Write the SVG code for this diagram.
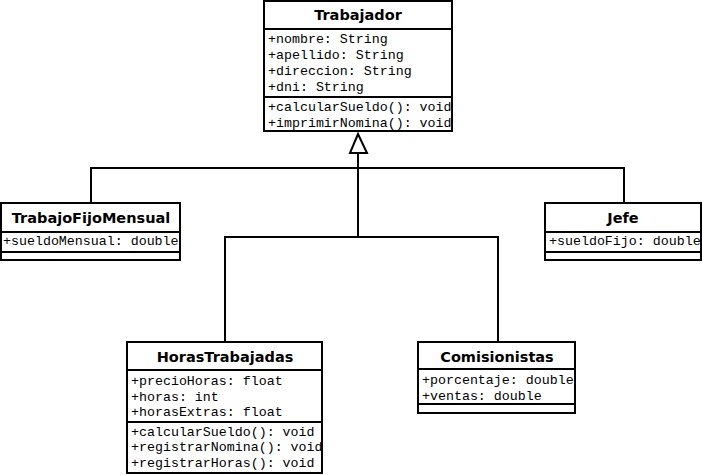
<svg xmlns="http://www.w3.org/2000/svg" width="702" height="475" viewBox="0 0 702 475">
<style>
.box{fill:#fff;stroke:#000;stroke-width:2}
.sep{stroke:#000;stroke-width:2}
.h{font-family:"DejaVu Sans",Verdana,sans-serif;font-weight:bold;font-size:14.5px;text-anchor:middle;fill:#000}
.m{font-family:"Liberation Mono","Courier New",monospace;font-size:13.3px;fill:#000}
.c{fill:none;stroke:#000;stroke-width:2}
</style>
<defs>
<clipPath id="cT"><rect x="264" y="1" width="188" height="130"/></clipPath>
<clipPath id="cF"><rect x="1" y="203" width="179" height="57"/></clipPath>
<clipPath id="cJ"><rect x="545" y="203" width="156" height="57"/></clipPath>
<clipPath id="cH"><rect x="127" y="342" width="195" height="131"/></clipPath>
<clipPath id="cC"><rect x="418" y="342" width="157" height="71"/></clipPath>
</defs>
<g id="connectors">
<polyline class="c" points="91,204 91,168 624,168 624,204"/>
<polyline class="c" points="225,342 225,237 498,237 498,342"/>
<line class="c" x1="358" y1="153" x2="358" y2="237" stroke-width="2.5"/>
<polygon points="358,134 350,153 367,153" fill="#fff" stroke="#000" stroke-width="2"/>
</g>
<g id="Trabajador">
<rect class="box" x="264" y="1" width="188" height="130"/>
<g clip-path="url(#cT)">
<text class="h" x="358" y="20">Trabajador</text>
<text class="m" x="268" y="43">+nombre: String</text>
<text class="m" x="268" y="59">+apellido: String</text>
<text class="m" x="268" y="75">+direccion: String</text>
<text class="m" x="268" y="91">+dni: String</text>
<text class="m" x="268" y="111">+calcularSueldo(): void</text>
<text class="m" x="268" y="127">+imprimirNomina(): void</text>
</g>
<line class="sep" x1="264" y1="29" x2="452" y2="29"/>
<line class="sep" x1="264" y1="97" x2="452" y2="97"/>
<rect class="box" x="264" y="1" width="188" height="130" fill="none" style="fill:none"/>
</g>
<g id="TrabajoFijoMensual">
<rect class="box" x="1" y="203" width="179" height="57"/>
<g clip-path="url(#cF)">
<text class="h" x="91" y="223">TrabajoFijoMensual</text>
<text class="m" x="3" y="245">+sueldoMensual: double</text>
</g>
<line class="sep" x1="1" y1="232" x2="180" y2="232"/>
<line class="sep" x1="1" y1="252" x2="180" y2="252"/>
<rect class="box" x="1" y="203" width="179" height="57" style="fill:none"/>
</g>
<g id="Jefe">
<rect class="box" x="545" y="203" width="156" height="57"/>
<g clip-path="url(#cJ)">
<text class="h" x="623" y="223">Jefe</text>
<text class="m" x="549" y="245">+sueldoFijo: double</text>
</g>
<line class="sep" x1="545" y1="232" x2="701" y2="232"/>
<line class="sep" x1="545" y1="252" x2="701" y2="252"/>
<rect class="box" x="545" y="203" width="156" height="57" style="fill:none"/>
</g>
<g id="HorasTrabajadas">
<rect class="box" x="127" y="342" width="195" height="131"/>
<g clip-path="url(#cH)">
<text class="h" x="225" y="362">HorasTrabajadas</text>
<text class="m" x="131" y="385">+precioHoras: float</text>
<text class="m" x="131" y="401">+horas: int</text>
<text class="m" x="131" y="416">+horasExtras: float</text>
<text class="m" x="131" y="436">+calcularSueldo(): void</text>
<text class="m" x="131" y="451">+registrarNomina(): void</text>
<text class="m" x="131" y="467">+registrarHoras(): void</text>
</g>
<line class="sep" x1="127" y1="370" x2="322" y2="370"/>
<line class="sep" x1="127" y1="422" x2="322" y2="422"/>
<rect class="box" x="127" y="342" width="195" height="131" style="fill:none"/>
</g>
<g id="Comisionistas">
<rect class="box" x="418" y="342" width="157" height="71"/>
<g clip-path="url(#cC)">
<text class="h" x="497" y="362">Comisionistas</text>
<text class="m" x="422" y="384">+porcentaje: double</text>
<text class="m" x="422" y="400">+ventas: double</text>
</g>
<line class="sep" x1="418" y1="369" x2="575" y2="369"/>
<line class="sep" x1="418" y1="404" x2="575" y2="404"/>
<rect class="box" x="418" y="342" width="157" height="71" style="fill:none"/>
</g>
</svg>
